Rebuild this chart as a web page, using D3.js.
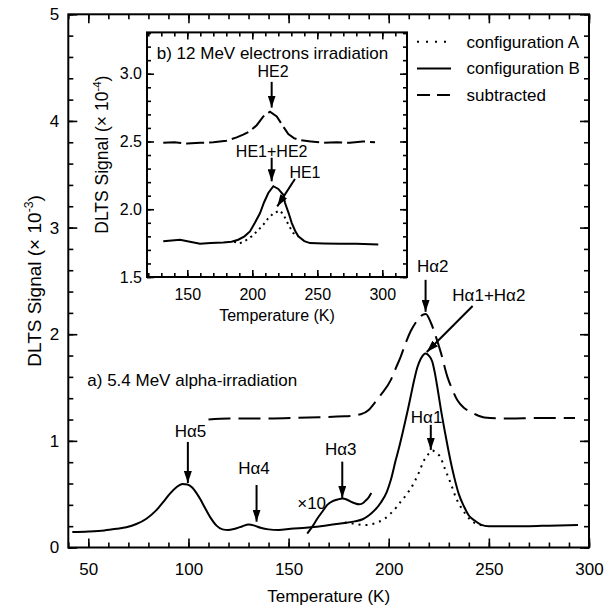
<!DOCTYPE html>
<html>
<head>
<meta charset="utf-8">
<script src="https://cdn.jsdelivr.net/npm/d3@7"></script>
<style>
  body { margin: 0; background: #fff; }
  svg text { font-family: "Liberation Sans", Arial, Helvetica, sans-serif; fill: #000; }
</style>
</head>
<body>
<div id="chart"></div>
<script>
// a) 5.4 MeV alpha-irradiation : [temperature (K), DLTS signal (x 1e-3)]
const configB = [
  [42, 0.145], [50, 0.15], [58, 0.16], [64, 0.175], [69, 0.19], [74, 0.22], [79, 0.27],
  [84, 0.35], [88, 0.44], [91, 0.51], [94, 0.565], [97, 0.595], [99.5, 0.59], [102, 0.56],
  [104, 0.51], [106, 0.45], [108, 0.38], [111, 0.28], [114, 0.205], [117, 0.17], [120, 0.165],
  [124, 0.18], [127, 0.2], [130, 0.215], [133, 0.205], [136, 0.185], [140, 0.17], [145, 0.165],
  [151, 0.175], [161, 0.19], [168, 0.205], [176, 0.225], [183, 0.245], [187, 0.265], [190, 0.3],
  [193, 0.35], [196, 0.42], [199, 0.52], [201, 0.63], [203.5, 0.82], [205.2, 0.94], [207, 1.08],
  [209.3, 1.27], [211, 1.42], [212.7, 1.57], [214.3, 1.69], [216, 1.77], [218.5, 1.82], [220, 1.8],
  [221.8, 1.74], [223, 1.64], [224.3, 1.5], [226, 1.3], [227.7, 1.12], [229.5, 0.94], [231, 0.8],
  [232.7, 0.66], [235, 0.5], [237.7, 0.38], [240, 0.3], [242.7, 0.255], [246, 0.215], [250, 0.2],
  [260, 0.2], [270, 0.2], [280, 0.205], [294.5, 0.21]
];
const configA = [
  [178, 0.235], [182, 0.225], [185, 0.215], [188, 0.21], [192, 0.22], [195, 0.24], [198, 0.27],
  [201, 0.32], [204, 0.38], [206, 0.43], [209, 0.5], [212.7, 0.61], [215, 0.7], [217.7, 0.82],
  [220, 0.88], [221.8, 0.91], [223.5, 0.89], [226, 0.84], [228, 0.74], [231, 0.6], [233.5, 0.47],
  [236, 0.38], [238.5, 0.31], [241, 0.255], [244.3, 0.22], [247, 0.205]
];
const subtracted = [
  [110, 1.2], [120, 1.21], [140, 1.21], [160, 1.22], [178, 1.23], [186, 1.25], [190, 1.29],
  [192.7, 1.35], [196, 1.43], [201, 1.57], [203.5, 1.68], [206, 1.79], [208.5, 1.92], [211, 2.03],
  [213.5, 2.11], [216, 2.17], [218.5, 2.19], [221, 2.11], [223.5, 1.98], [226, 1.83], [229.3, 1.6],
  [232, 1.47], [234.3, 1.38], [237.5, 1.31], [241, 1.27], [247.7, 1.22], [260, 1.21], [275, 1.215],
  [293, 1.215]
];
const timesTen = [
  [159.3, 0.13], [162, 0.2], [164.3, 0.27], [167, 0.34], [169.3, 0.4], [172, 0.435], [174.5, 0.45],
  [176.8, 0.46], [179, 0.45], [181, 0.43], [183, 0.415], [185.2, 0.405], [187, 0.415], [188.5, 0.44],
  [190, 0.47], [191.3, 0.51]
];

// b) 12 MeV electrons irradiation : [temperature (K), DLTS signal (x 1e-4)]
const insetSub = [
  [131.5, 2.49], [140, 2.495], [150, 2.485], [160, 2.49], [170, 2.495], [180, 2.505], [188, 2.53],
  [193, 2.55], [198, 2.575], [203.4, 2.62], [208.5, 2.685], [213.6, 2.72], [218.8, 2.685],
  [223.8, 2.61], [227.7, 2.555], [232, 2.525], [236.7, 2.51], [245, 2.5], [255, 2.49], [265, 2.495],
  [275, 2.49], [285, 2.5], [294.4, 2.495]
];
const insetB = [
  [131.5, 1.763], [138, 1.77], [144.4, 1.775], [152, 1.76], [159.8, 1.746], [168, 1.75], [177.7, 1.755],
  [184, 1.76], [189.2, 1.775], [194, 1.8], [198.2, 1.836], [202, 1.9], [205.9, 1.97], [209, 2.05],
  [212.3, 2.12], [216.2, 2.17], [220, 2.15], [223.8, 2.107], [225.2, 2.046], [228, 1.97], [230.3, 1.9],
  [233, 1.84], [235.4, 1.8], [240, 1.765], [244.4, 1.75], [255, 1.748], [267.5, 1.746], [280, 1.745],
  [296.9, 1.74]
];
const insetA = [
  [186, 1.76], [190.5, 1.75], [195, 1.77], [199.5, 1.8], [204, 1.84], [208.5, 1.886], [212, 1.93],
  [216.2, 1.97], [221.3, 1.99], [224, 1.96], [226.5, 1.91], [229, 1.865], [231.5, 1.825], [235.4, 1.8]
];

const mainXTicks = [50, 100, 150, 200, 250, 300];
const mainYTicks = [0, 1, 2, 3, 4, 5];
const insetXTicks = [150, 200, 250, 300];
const insetYTicks = [1.5, 2.0, 2.5, 3.0];

const legendItems = [
  { label: "configuration A", dash: "2,7" },
  { label: "configuration B", dash: null },
  { label: "subtracted", dash: "13,7" }
];

// labels and arrows, in data units of each panel
const mainNotes = [
  { text: "Hα5", at: [101, 1.04], from: [99.7, 0.99], to: [99.7, 0.605] },
  { text: "Hα4", at: [132.7, 0.69], from: [134, 0.586], to: [134, 0.242] },
  { text: "Hα3", at: [176, 0.87], from: [176.8, 0.805], to: [176.8, 0.465] },
  { text: "Hα2", at: [222, 2.585], from: [218.4, 2.51], to: [218.4, 2.21] },
  { text: "Hα1+Hα2", at: [250, 2.31], from: [241.9, 2.265], to: [219, 1.834] },
  { text: "Hα1", at: [218.9, 1.168], from: [221, 1.15], to: [221, 0.915] },
  { text: "×10", at: [161.5, 0.36] }
];
const insetNotes = [
  { text: "HE2", at: [216, 2.978], from: [214.9, 2.94], to: [214.9, 2.75] },
  { text: "HE1+HE2", at: [214.9, 2.388], from: [214.9, 2.38], to: [214.9, 2.206] },
  { text: "HE1", at: [240.5, 2.233], from: [232.8, 2.223], to: [219.2, 2.021] }
];

const width = 616, height = 612;

const svg = d3.select("#chart").append("svg")
  .attr("width", width)
  .attr("height", height);

svg.append("defs").append("marker")
  .attr("id", "head")
  .attr("viewBox", "0 0 12 8")
  .attr("refX", 12).attr("refY", 4)
  .attr("markerWidth", 12).attr("markerHeight", 8)
  .attr("markerUnits", "userSpaceOnUse")
  .attr("orient", "auto")
  .append("path")
  .attr("d", "M0,0L12,4L0,8Z")
  .attr("fill", "#000");

const x = d3.scaleLinear().domain([40, 300]).range([68.3, 589]);
const y = d3.scaleLinear().domain([0, 5]).range([547.5, 14.3]);
const ix = d3.scaleLinear().domain([119, 319]).range([147, 407]);
const iy = d3.scaleLinear().domain([1.5, 3.305]).range([277, 32.4]);


function drawFrame(g, xs, ys, opt) {
  const [x0, x1] = xs.range();
  const [y0, y1] = ys.range();

  const tickStyle = sel => sel
    .call(s => s.select(".domain").remove())
    .call(s => s.selectAll(".tick line").attr("stroke-width", 1.6))
    .call(s => s.selectAll(".tick text").attr("font-size", opt.fontSize).attr("font-family", null));

  // bottom and left carry labels, top and right only ticks; all ticks point inward
  const axes = [
    { a: () => d3.axisBottom(xs), t: `translate(0,${y0})`, major: opt.xMajor, minor: opt.xMinor, fmt: opt.xFmt, pad: opt.xPad },
    { a: () => d3.axisTop(xs), t: `translate(0,${y1})`, major: opt.xMajor, minor: opt.xMinor, fmt: () => "", pad: 0 },
    { a: () => d3.axisLeft(ys), t: `translate(${x0},0)`, major: opt.yMajor, minor: opt.yMinor, fmt: opt.yFmt, pad: opt.yPad },
    { a: () => d3.axisRight(ys), t: `translate(${x1},0)`, major: opt.yMajor, minor: opt.yMinor, fmt: () => "", pad: 0 }
  ];

  axes.forEach(ax => {
    g.append("g")
      .attr("transform", ax.t)
      .call(ax.a().tickValues(ax.minor).tickSize(-opt.minorLen).tickFormat(""))
      .call(tickStyle);
    g.append("g")
      .attr("transform", ax.t)
      .call(ax.a().tickValues(ax.major).tickSize(-opt.majorLen)
        .tickPadding(ax.pad)
        .tickFormat(ax.fmt))
      .call(tickStyle);
  });

  g.append("rect")
    .attr("x", x0).attr("y", y1)
    .attr("width", x1 - x0).attr("height", y0 - y1)
    .attr("fill", "none")
    .attr("stroke", "#000")
    .attr("stroke-width", 2);
}


function drawNotes(g, xs, ys, notes, fontSize) {
  notes.forEach(n => {
    g.append("text")
      .attr("x", xs(n.at[0]))
      .attr("y", ys(n.at[1]))
      .attr("text-anchor", "middle")
      .attr("font-size", fontSize)
      .text(n.text);
    if (n.from) {
      g.append("line")
        .attr("x1", xs(n.from[0])).attr("y1", ys(n.from[1]))
        .attr("x2", xs(n.to[0])).attr("y2", ys(n.to[1]))
        .attr("stroke", "#000")
        .attr("stroke-width", 2)
        .attr("marker-end", "url(#head)");
    }
  });
}


function yTitle(g, xPos, yPos, exp, fontSize) {
  const t = g.append("text")
    .attr("transform", `translate(${xPos},${yPos}) rotate(-90)`)
    .attr("text-anchor", "middle")
    .attr("font-size", fontSize);
  t.append("tspan").text("DLTS Signal (× 10");
  t.append("tspan").attr("font-size", fontSize * 0.65).attr("dy", -fontSize * 0.4).text(exp);
  t.append("tspan").attr("dy", fontSize * 0.4).text(")");
}

// ---- main panel ----
const main = svg.append("g");

drawFrame(main, x, y, {
  xMajor: mainXTicks, xMinor: d3.range(40, 301, 10),
  yMajor: mainYTicks, yMinor: d3.range(0, 5.01, 0.2),
  majorLen: 9, minorLen: 5, xPad: 15, yPad: 9, fontSize: 17,
  xFmt: d3.format("d"), yFmt: d3.format("d")
});

const line = (xs, ys) => d3.line()
  .x(d => xs(d[0]))
  .y(d => ys(d[1]))
  .curve(d3.curveMonotoneX);

const curves = [
  { data: subtracted, dash: "22,8" },
  { data: configB, dash: null },
  { data: configA, dash: "2,5" },
  { data: timesTen, dash: null }
];

main.selectAll("path.curve")
  .data(curves)
  .join("path")
    .attr("class", "curve")
    .attr("d", d => line(x, y)(d.data))
    .attr("fill", "none")
    .attr("stroke", "#000")
    .attr("stroke-width", 2)
    .attr("stroke-dasharray", d => d.dash);

main.append("text")
  .attr("x", x(49.5))
  .attr("y", y(1.515))
  .attr("font-size", 17)
  .text("a) 5.4 MeV alpha-irradiation");

drawNotes(main, x, y, mainNotes, 17);

main.append("text")
  .attr("x", d3.mean(x.range()))
  .attr("y", 602)
  .attr("text-anchor", "middle")
  .attr("font-size", 17)
  .text("Temperature (K)");

yTitle(main, 41, d3.mean(y.range()), "-3", 19);

// legend
const legend = main.append("g");
legendItems.forEach((d, i) => {
  const ly = 41.7 + i * 26.7;
  legend.append("line")
    .attr("x1", 417).attr("x2", 451)
    .attr("y1", ly).attr("y2", ly)
    .attr("stroke", "#000")
    .attr("stroke-width", 2)
    .attr("stroke-dasharray", d.dash);
  legend.append("text")
    .attr("x", 466.5)
    .attr("y", ly + 6)
    .attr("font-size", 17)
    .text(d.label);
});

// ---- inset panel ----
const inset = svg.append("g");

inset.append("rect")
  .attr("x", ix.range()[0]).attr("y", iy.range()[1])
  .attr("width", ix.range()[1] - ix.range()[0])
  .attr("height", iy.range()[0] - iy.range()[1])
  .attr("fill", "#fff");

drawFrame(inset, ix, iy, {
  xMajor: insetXTicks, xMinor: d3.range(120, 320, 10),
  yMajor: insetYTicks, yMinor: d3.range(1.5, 3.31, 0.1),
  majorLen: 7, minorLen: 4, xPad: 12, yPad: 5, fontSize: 16,
  xFmt: d3.format("d"), yFmt: d3.format(".1f")
});

const insetLine = d3.line().x(d => ix(d[0])).y(d => iy(d[1]));

[
  { data: insetSub, dash: "18,5" },
  { data: insetB, dash: null },
  { data: insetA, dash: "2,4" }
].forEach(c => {
  inset.append("path")
    .attr("d", insetLine(c.data))
    .attr("fill", "none")
    .attr("stroke", "#000")
    .attr("stroke-width", 2)
    .attr("stroke-dasharray", c.dash);
});

inset.append("text")
  .attr("x", ix(126.5))
  .attr("y", iy(3.111))
  .attr("font-size", 17)
  .text("b) 12 MeV electrons irradiation");

drawNotes(inset, ix, iy, insetNotes, 16);

inset.append("text")
  .attr("x", d3.mean(ix.range()))
  .attr("y", 321)
  .attr("text-anchor", "middle")
  .attr("font-size", 16)
  .text("Temperature (K)");

yTitle(inset, 108, d3.mean(iy.range()), "-4", 17.5);
</script>
</body>
</html>
